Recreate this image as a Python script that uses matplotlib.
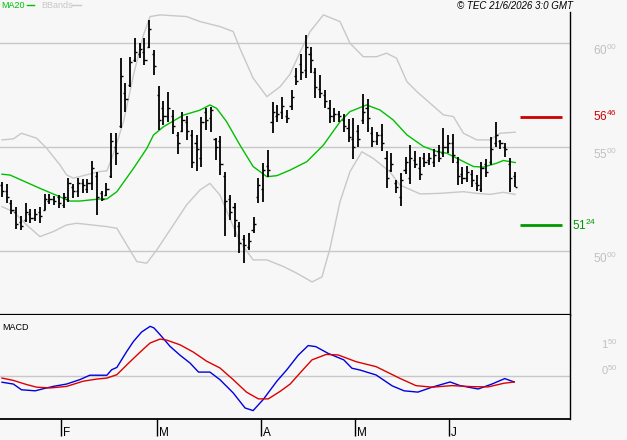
import matplotlib
matplotlib.use('Agg')
import matplotlib.pyplot as plt
from matplotlib.lines import Line2D
from matplotlib.transforms import blended_transform_factory, offset_copy

plt.rcParams['font.family'] = ['Liberation Sans', 'DejaVu Sans']

BG = '#f7f7f7'
GRID = '#c8c8c8'
LABEL_GREY = '#c0c0c0'
MA_GREEN = '#00c000'

# daily OHLC bars (price)
highs = [53.33, 53.23, 52.46, 52.13, 51.69, 52.32, 52.03, 52.03, 52.13, 52.75,
         52.75, 52.66, 52.70, 52.80, 53.52, 53.23, 53.52, 53.47, 53.47, 54.34,
         53.81, 52.89, 53.28, 55.68, 55.68, 59.29, 58.09, 59.34, 60.25, 60.01,
         60.25, 61.12, 59.68, 57.94, 57.22, 57.65, 56.79, 55.73, 56.69, 56.50,
         55.83, 55.59, 56.45, 56.89, 56.93, 55.44, 55.54, 53.81, 52.70, 52.32,
         51.40, 50.78, 50.88, 51.64, 53.52, 54.24, 54.87, 57.17, 57.03, 57.41,
         56.79, 57.75, 58.81, 59.48, 60.40, 59.82, 58.81, 58.47, 57.75, 57.27,
         56.89, 56.74, 56.60, 56.36, 56.41, 56.07, 57.56, 57.32, 55.97, 55.73,
         56.12, 54.82, 54.73, 53.42, 53.76, 54.53, 55.11, 54.82, 54.53, 54.73,
         54.73, 54.92, 55.11, 55.92, 55.59, 55.64, 54.53, 54.05, 54.10, 53.90,
         53.66, 54.29, 54.44, 55.49, 56.21, 55.35, 55.20, 54.48, 53.81]
lows = [52.61, 52.32, 51.79, 51.07, 51.02, 51.40, 51.36, 51.45, 51.36, 51.98,
        52.27, 52.22, 52.08, 52.08, 52.37, 52.56, 52.61, 52.80, 52.80, 52.94,
        51.74, 52.41, 52.66, 53.52, 54.15, 55.92, 56.69, 57.90, 59.10, 59.29,
        58.95, 59.77, 58.47, 55.83, 56.07, 56.21, 55.63, 54.67, 55.73, 55.35,
        54.00, 53.86, 54.05, 55.83, 55.73, 54.38, 53.66, 50.73, 51.50, 50.68,
        49.91, 49.43, 50.06, 50.88, 52.32, 52.37, 53.57, 55.68, 56.21, 56.36,
        56.16, 56.79, 57.99, 58.23, 58.33, 58.57, 57.37, 57.37, 56.89, 56.16,
        56.21, 56.21, 55.73, 55.25, 54.44, 55.01, 56.12, 55.73, 55.01, 55.11,
        54.82, 53.04, 53.83, 52.80, 52.18, 53.71, 53.23, 54.00, 53.42, 54.05,
        54.15, 54.05, 54.29, 54.53, 54.73, 54.24, 53.18, 53.23, 53.33, 53.08,
        52.89, 52.85, 53.57, 54.15, 55.01, 54.92, 54.53, 52.85, 53.08]
opens = [53.2, 52.9, 52.3, 51.9, 51.4, 51.5, 51.8, 51.6, 51.9, 52.0,
         52.4, 52.5, 52.6, 52.2, 52.5, 53.1, 52.9, 53.3, 53.0, 53.3,
         53.6, 52.8, 52.7, 53.6, 55.0, 56.0, 57.6, 58.0, 59.2, 59.5,
         59.6, 59.8, 59.5, 57.5, 56.9, 56.5, 56.5, 55.6, 55.8, 56.2,
         55.6, 55.2, 54.5, 56.7, 56.4, 55.4, 55.3, 53.6, 52.5, 52.1,
         51.2, 50.6, 50.2, 51.0, 52.6, 53.0, 54.1, 56.2, 56.5, 56.7,
         56.5, 57.0, 58.4, 59.0, 58.7, 59.5, 58.6, 57.8, 57.5, 56.9,
         56.5, 56.6, 56.3, 55.9, 55.4, 55.8, 56.3, 56.9, 55.7, 55.3,
         55.6, 54.5, 53.9, 53.3, 52.6, 53.9, 53.5, 54.4, 54.0, 54.5,
         54.4, 54.3, 54.8, 54.7, 55.0, 55.2, 54.3, 53.7, 53.5, 53.7,
         53.3, 53.0, 54.2, 54.3, 55.2, 55.3, 55.0, 54.2, 53.6]
closes = [52.9, 52.6, 52.0, 51.3, 51.2, 51.9, 51.6, 51.8, 51.7, 52.5,
          52.5, 52.4, 52.3, 52.6, 53.3, 52.9, 53.3, 53.2, 53.3, 54.0,
          52.6, 52.5, 53.0, 55.3, 54.7, 58.4, 57.3, 59.1, 59.6, 59.7,
          59.2, 60.7, 58.9, 56.3, 56.5, 56.9, 56.0, 55.2, 56.3, 55.8,
          54.3, 54.9, 56.2, 56.3, 56.8, 55.0, 54.2, 52.4, 51.9, 51.5,
          50.4, 50.3, 50.5, 51.3, 53.2, 53.9, 53.9, 56.7, 56.6, 57.0,
          56.4, 57.4, 58.2, 58.6, 59.8, 59.2, 57.9, 57.6, 57.2, 56.5,
          56.6, 56.5, 56.0, 55.5, 55.0, 55.4, 56.7, 56.4, 55.3, 55.6,
          55.2, 53.5, 54.2, 53.1, 53.4, 54.3, 54.5, 54.2, 53.7, 54.3,
          54.5, 54.6, 54.5, 55.0, 55.2, 54.6, 53.6, 53.5, 53.8, 53.4,
          53.2, 54.0, 53.8, 54.9, 55.6, 55.2, 54.9, 53.5, 53.1]

# moving average and bollinger bands, read at bar positions
ma20_pos = [0, 1.7, 8.0, 14.3, 16.4, 20.6, 22.1, 24.2, 27.7, 30.5,
            31.9, 34.0, 38.2, 41.7, 43.8, 45.2, 47.3, 50.1, 52.9, 55.8,
            57.9, 60.7, 64.2, 67.7, 71.2, 73.3, 76.8, 79.6, 82.4, 85.3,
            88.8, 91.6, 93.7, 96.5, 99.3, 101.4, 104.2, 105.6, 108.1]
ma20 = [53.70, 53.66, 53.02, 52.41, 52.41, 52.51, 52.51, 52.86, 53.98, 54.94,
        55.58, 55.98, 56.54, 56.78, 57.03, 56.87, 56.23, 55.11, 54.07, 53.58,
        53.63, 53.90, 54.30, 55.10, 56.22, 56.71, 57.03, 56.79, 56.31, 55.59,
        55.03, 54.79, 54.71, 54.39, 54.07, 54.04, 54.23, 54.36, 54.26]

bb_up_pos = [0, 2.4, 4.1, 7.3, 9.4, 12.2, 13.6, 15.0, 17.8, 20.6,
             22.1, 23.4, 25.6, 27.7, 29.8, 31.2, 33.3, 38.9, 41.7, 45.9,
             48.7, 50.1, 52.9, 55.8, 58.6, 60.7, 62.8, 64.9, 67.7, 71.2,
             73.3, 76.1, 78.9, 81.0, 83.1, 85.3, 87.4, 90.2, 93.0, 95.1,
             97.2, 100.0, 102.8, 104.9, 108.1]
bb_up = [55.35, 55.40, 55.67, 55.43, 54.95, 54.15, 53.67, 53.51, 53.67, 53.83,
         53.86, 54.63, 56.23, 58.47, 60.40, 61.28, 61.36, 61.28, 61.04, 60.80,
         60.56, 59.76, 58.32, 57.43, 57.91, 58.52, 59.58, 60.56, 61.36, 61.04,
         60.00, 59.35, 59.35, 59.52, 59.28, 58.15, 57.67, 57.11, 56.55, 56.47,
         55.67, 55.35, 55.35, 55.67, 55.72]

bb_lo_pos = [0, 2.4, 5.2, 8.0, 10.8, 13.6, 15.7, 17.8, 22.1, 24.2,
             26.3, 28.4, 30.5, 32.6, 36.1, 38.9, 41.7, 43.8, 45.9, 48.0,
             50.1, 52.9, 55.8, 59.3, 62.1, 65.3, 67.4, 69.1, 71.2, 73.3,
             75.8, 78.2, 81.7, 83.8, 88.1, 92.3, 97.2, 100.0, 102.8, 105.6,
             108.1]
bb_lo = [52.14, 51.90, 51.26, 50.70, 50.94, 51.26, 51.34, 51.29, 51.18, 51.10,
         50.30, 49.50, 49.42, 50.06, 51.26, 52.23, 52.94, 53.26, 52.70, 51.58,
         50.46, 49.58, 49.58, 49.26, 48.94, 48.52, 48.76, 50.14, 52.38, 53.82,
         54.78, 54.46, 53.82, 53.18, 52.75, 52.78, 52.86, 52.78, 52.73, 52.83,
         52.73]

# MACD panel
macd_pos = [0, 2.4, 4.1, 7.0, 8.7, 10.8, 13.6, 16.4, 18.5, 22.1,
            23.1, 24.2, 26.3, 27.7, 29.4, 31.2, 32.0, 33.3, 35.4, 37.5,
            39.6, 41.4, 43.8, 45.9, 48.7, 51.2, 52.9, 55.0, 57.9, 60.0,
            62.4, 64.5, 66.1, 68.7, 72.0, 73.7, 75.4, 78.8, 82.2, 84.7,
            87.6, 90.6, 94.4, 96.5, 100.3, 103.2, 105.9, 107.9]
macd = [-0.24, -0.31, -0.53, -0.57, -0.49, -0.40, -0.31, -0.14, 0.03, 0.03,
        0.24, 0.33, 0.95, 1.33, 1.69, 1.91, 1.85, 1.59, 1.14, 0.80,
        0.50, 0.15, 0.15, -0.14, -0.65, -1.23, -1.33, -0.91, -0.20, 0.24,
        0.80, 1.17, 1.13, 0.87, 0.62, 0.30, 0.23, 0.04, -0.38, -0.57,
        -0.62, -0.43, -0.23, -0.37, -0.50, -0.31, -0.10, -0.23]

signal_pos = [0, 2.4, 5.2, 7.3, 10.1, 13.6, 17.1, 19.9, 22.1, 24.2,
              26.3, 29.1, 31.2, 33.3, 34.7, 37.5, 40.3, 43.1, 45.9, 48.7,
              51.5, 54.0, 56.1, 58.6, 60.7, 62.8, 65.3, 68.3, 70.8, 74.6,
              78.8, 83.8, 87.2, 90.6, 94.8, 99.0, 102.4, 105.7, 107.9]
signal = [-0.08, -0.17, -0.33, -0.43, -0.46, -0.40, -0.20, -0.12, -0.08, 0.05,
          0.43, 0.92, 1.27, 1.42, 1.38, 1.20, 0.92, 0.57, 0.31, -0.14,
          -0.62, -0.88, -0.88, -0.59, -0.31, 0.12, 0.62, 0.83, 0.81, 0.55,
          0.36, -0.09, -0.37, -0.43, -0.37, -0.41, -0.42, -0.28, -0.23]

price_ticks = [60.0, 55.0, 50.0]
macd_ticks = [1.5, 0.5]
resistance = 56.46
support = 51.24

month_labels = ['F', 'M', 'A', 'M', 'J']
month_pos = [12.4, 32.7, 54.6, 74.4, 94.2]

XLIM = (-0.42, 119.65)


def split_label(value):
    main, dec = f'{value:.2f}'.split('.')
    return rf'$\mathregular{{{main}^{{{dec}}}}}$'


def plot_price(fig, axis):

    n = len(highs)
    x = list(range(n))

    axis.plot(bb_up_pos, bb_up, c=GRID, lw=1)
    axis.plot(bb_lo_pos, bb_lo, c=GRID, lw=1)
    axis.plot(ma20_pos, ma20, c=MA_GREEN, lw=1)

    axis.vlines(x, lows, highs, color='black', lw=1.3)
    axis.hlines(opens, [i - 0.45 for i in x], x, color='black', lw=1)
    axis.hlines(closes, x, [i + 0.45 for i in x], color='black', lw=1)

    axis.hlines(resistance, n + 0.1, n + 9, color='#cc0000', lw=2)
    axis.hlines(support, n + 0.1, n + 9, color='#009900', lw=2)

    trans = blended_transform_factory(axis.transAxes, axis.transData)
    axis.text(593 / 570, resistance, split_label(resistance), transform=trans,
              color='#cc0000', fontsize=8.5, va='center', ha='left')
    axis.text(572 / 570, support, split_label(support), transform=trans,
              color='#009900', fontsize=8.5, va='center', ha='left')

    axis.set_xlim(*XLIM)
    axis.set_ylim(46.93, 61.50)
    axis.set_xticks([])
    axis.set_yticks(price_ticks)
    axis.set_yticklabels([split_label(v) for v in price_ticks])
    axis.yaxis.tick_right()
    axis.tick_params(axis='y', length=0, pad=16.5, labelsize=8.5, labelcolor=LABEL_GREY)
    for label in axis.get_yticklabels():
        label.set_va('top')
    axis.grid(axis='y', color=GRID, lw=1)

    for side in ['left', 'top']:
        axis.spines[side].set_visible(False)
    axis.spines['right'].set_linewidth(1)
    axis.spines['bottom'].set_linewidth(1.6)


def plot_macd(fig, axis):

    axis.axhline(0, c=GRID, lw=1)
    axis.plot(macd_pos, macd, c='#0000e0', lw=1)
    axis.plot(signal_pos, signal, c='#dd0000', lw=1)

    axis.set_xlim(*XLIM)
    axis.set_ylim(-1.654, 2.346)
    axis.set_yticks(macd_ticks)
    axis.set_yticklabels([split_label(v) for v in macd_ticks])
    axis.yaxis.tick_right()
    axis.tick_params(axis='y', length=0, pad=22, labelsize=8, labelcolor=LABEL_GREY)
    for label in axis.get_yticklabels():
        label.set_va('top')

    axis.set_xticks(month_pos)
    axis.set_xticklabels([])
    axis.tick_params(axis='x', direction='out', length=12, width=1, color='black')

    trans = offset_copy(blended_transform_factory(axis.transData, axis.transAxes),
                        fig=fig, x=2, y=-8, units='dots')
    for pos, label in zip(month_pos, month_labels):
        axis.text(pos, 0, label, transform=trans, ha='left', va='top', fontsize=8.5)

    for side in ['left', 'top']:
        axis.spines[side].set_visible(False)
    axis.spines['right'].set_linewidth(1)
    axis.spines['bottom'].set_linewidth(1.3)


fig = plt.figure(figsize=(6.27, 4.40), dpi=100, facecolor=BG)

W, H = 627, 440
ax_price = fig.add_axes([0, 125 / H, 570 / W, 303 / H], facecolor=BG)
ax_macd = fig.add_axes([0, 21 / H, 570 / W, 104 / H], facecolor=BG)

plot_price(fig, ax_price)
plot_macd(fig, ax_macd)

# legend and header
fig.text(1 / W, 1 - 5 / H, 'MA20', color=MA_GREEN, fontsize=6.5, va='center')
fig.add_artist(Line2D([27 / W, 34 / W], [1 - 5 / H, 1 - 5 / H], color=MA_GREEN, lw=1))
fig.text(41 / W, 1 - 5 / H, 'BBands', color=GRID, fontsize=6.5, va='center')
fig.add_artist(Line2D([72 / W, 81 / W], [1 - 5 / H, 1 - 5 / H], color=GRID, lw=1))
fig.text(573 / W, 1 - 6 / H, '© TEC 21/6/2026 3:0 GMT', style='italic',
         fontsize=7, ha='right', va='center')
fig.text(2 / W, 1 - 327 / H, 'MACD', fontsize=6.5, va='center')

fig.savefig('out.png', dpi=100, facecolor=BG)
plt.close(fig)
